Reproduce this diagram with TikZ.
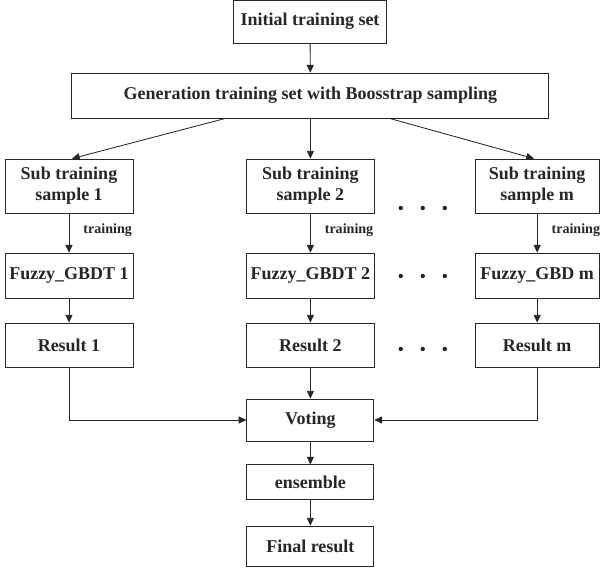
\documentclass[tikz,border=0pt]{standalone}
\usepackage{fontspec}
\setmainfont{Liberation Serif}
\usetikzlibrary{arrows.meta, calc, positioning}
\definecolor{linegray}{RGB}{38,38,38}

\begin{document}
\begin{tikzpicture}[font=\fontsize{12.8}{15}\selectfont\bfseries, color=linegray,
  box/.style={draw=linegray, line width=0.6pt, align=center, inner sep=0pt,
    minimum width=3.2cm, minimum height=1.1cm},
  arr/.style={-{Triangle[length=5.5pt,width=5pt]}, draw=linegray, line width=0.6pt},
  trainlbl/.style={font=\fontsize{10}{12}\selectfont\bfseries, inner sep=0pt}]
\useasboundingbox (0,0) rectangle (15,-14.25);
% TOP: input and sampling
\node[box, minimum width=3.825cm, minimum height=1.075cm] (init)
  at (7.75,-0.54) {Initial training set};
\node[box, minimum width=11.925cm, minimum height=1.125cm] (gen)
  at (7.76,-2.39) {Generation training set with Boosstrap sampling};
\draw[arr] (init) -- (gen);
% COLUMNS: sub sample -> model -> result
\foreach \c/\x/\w/\fz in {1/1.725/3.2/GBDT 1,2/7.76/3.2/GBDT 2,m/13.43/3.1/GBD m}{
  \node[box, minimum width=\w cm, minimum height=1.35cm] (sub\c)
    at (\x,-4.65) {Sub training\\sample \c};
  \node[box, minimum width=\w cm, minimum height=1.125cm] (fuz\c)
    at (\x,-6.89) {Fuzzy\_\fz};
  \node[box, minimum width=\w cm] (res\c) at (\x,-8.625) {Result \c};
  \draw[arr] (sub\c) -- node[trainlbl, right=0.35cm, yshift=2pt] {training} (fuz\c);
  \draw[arr] (fuz\c) -- (res\c);
}
\draw[arr] ([xshift=-2.135cm]gen.south) -- ([xshift=0.075cm]sub1.north);
\draw[arr] (gen) -- (sub2);
\draw[arr] ([xshift=1.99cm]gen.south) -- ([xshift=-0.08cm]subm.north);
% dots between column 2 and column m
\foreach \y in {-5.2,-6.9,-8.725}
  \foreach \x in {10.02,10.57,11.12}
    \fill[linegray] (\x,\y) circle (0.055);
% BOTTOM: voting and ensemble
\node[box, minimum width=3.175cm, minimum height=1.05cm] (vote)
  at (7.76,-10.5) {Voting};
\node[box, minimum width=3.175cm, minimum height=0.875cm] (ens)
  at (7.76,-12.06) {ensemble};
\node[box, minimum width=3.175cm, minimum height=1.0cm] (final)
  at (7.76,-13.65) {Final result};
\draw[arr] (res1) |- (vote);
\draw[arr] (res2) -- (vote);
\draw[arr] (resm) |- (vote);
\draw[arr] (vote) -- (ens);
\draw[arr] (ens) -- (final);
\end{tikzpicture}
\end{document}
